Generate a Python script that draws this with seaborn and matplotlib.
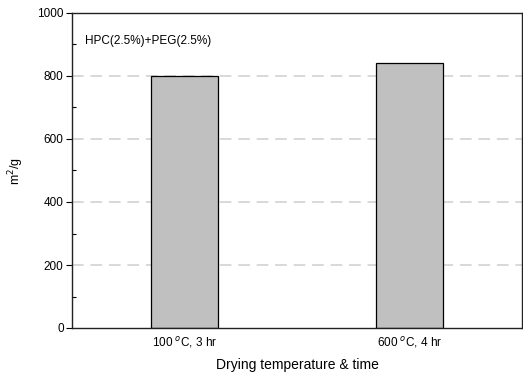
import matplotlib
matplotlib.use("Agg")
import matplotlib.pyplot as plt
import seaborn as sns
import pandas as pd
from matplotlib.ticker import MultipleLocator

categories = ["100 $^{o}$C, 3 hr", "600 $^{o}$C, 4 hr"]
values = [800, 840]
yticks = [0, 200, 400, 600, 800, 1000]

sns.set_style("white")
plt.rcParams['font.family'] = ['Liberation Sans', 'DejaVu Sans']
plt.rcParams['text.color'] = 'black'
plt.rcParams['axes.labelcolor'] = 'black'
plt.rcParams['xtick.color'] = 'black'
plt.rcParams['ytick.color'] = 'black'

df = pd.DataFrame({"cat": categories, "val": values})

fig = plt.figure(figsize=(5.23, 3.74), dpi=100)
ax = fig.add_axes([72/523, 1-328/374, 450/523, 315/374])

for y in [200, 400, 600, 800]:
    ax.axhline(y, color="#d8d8d8", linestyle=(0, (6, 3.5)), linewidth=1.4, zorder=0)

sns.barplot(data=df, x="cat", y="val", color="#c0c0c0", edgecolor="black",
            linewidth=0.9, width=0.3, ax=ax, saturation=1, zorder=2)

ax.set_xlim(-0.5, 1.5)
ax.set_ylim(0, 1000)
ax.set_yticks(yticks)
ax.yaxis.set_minor_locator(MultipleLocator(100))
ax.tick_params(axis="y", which="major", left=True, direction="out", length=4, width=0.8,
               labelsize=8.5, pad=2, colors="black")
ax.tick_params(axis="y", which="minor", left=True, direction="in", length=3, width=0.8,
               colors="black")
ax.tick_params(axis="x", which="major", bottom=False, length=0, labelsize=8.5, pad=5,
               colors="black")
for s in ax.spines.values():
    s.set_visible(True)
    s.set_color("#222222")
    s.set_linewidth(1.0)

ax.set_xlabel("Drying temperature & time", fontsize=10, color="black")
ax.set_ylabel("m$^{2}$/g", fontsize=9, color="black")
ax.xaxis.set_label_coords(0.5, -0.118, transform=ax.transAxes)
ax.xaxis.label.set_va("center")
ax.yaxis.set_label_coords(-0.125, 0.5, transform=ax.transAxes)
ax.yaxis.label.set_va("center")
ax.text(0.03, 0.91, "HPC(2.5%)+PEG(2.5%)", transform=ax.transAxes, fontsize=8.5,
        ha="left", va="center", color="black")

fig.savefig("out.png", dpi=100)
